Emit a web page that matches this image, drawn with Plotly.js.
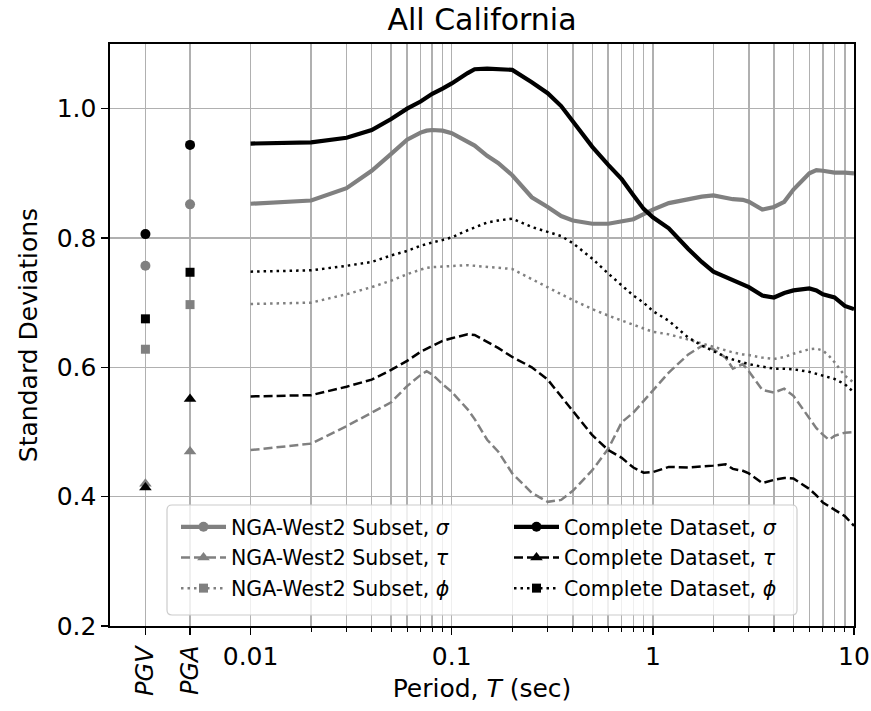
<!DOCTYPE html>
<html><head><meta charset="utf-8">
<script src="https://cdn.plot.ly/plotly-3.0.1.min.js"></script>
<style>html,body{margin:0;padding:0;background:#fff}#chart{width:871px;height:711px}</style>
</head><body><div id="chart"></div>
<script>
// ---- data ----
const periods = [0.01, 0.02, 0.03, 0.04, 0.05, 0.06, 0.07, 0.075, 0.08, 0.09, 0.1, 0.12, 0.13, 0.15, 0.17, 0.2, 0.25, 0.3, 0.35, 0.4, 0.5, 0.6, 0.7, 0.8, 0.9, 1, 1.2, 1.5, 1.75, 2, 2.3, 2.5, 2.8, 3, 3.5, 4, 4.5, 5, 6, 6.5, 7, 7.5, 8, 9, 10];

const ngaSigma = [0.853, 0.858, 0.877, 0.904, 0.930, 0.952, 0.963, 0.966, 0.967, 0.966, 0.962, 0.950, 0.943, 0.927, 0.916, 0.897, 0.863, 0.848, 0.834, 0.827, 0.822, 0.822, 0.825, 0.829, 0.837, 0.844, 0.854, 0.860, 0.864, 0.866, 0.862, 0.860, 0.859, 0.856, 0.844, 0.848, 0.856, 0.875, 0.900, 0.905, 0.904, 0.902, 0.901, 0.901, 0.900];
const ngaTau = [0.472, 0.482, 0.509, 0.530, 0.546, 0.571, 0.588, 0.594, 0.589, 0.574, 0.562, 0.535, 0.520, 0.488, 0.470, 0.436, 0.406, 0.392, 0.395, 0.409, 0.441, 0.474, 0.515, 0.530, 0.548, 0.565, 0.592, 0.620, 0.633, 0.628, 0.615, 0.598, 0.605, 0.594, 0.565, 0.561, 0.567, 0.556, 0.520, 0.506, 0.496, 0.488, 0.494, 0.499, 0.500];
const ngaPhi = [0.698, 0.700, 0.713, 0.724, 0.734, 0.744, 0.751, 0.754, 0.755, 0.756, 0.757, 0.758, 0.757, 0.756, 0.754, 0.752, 0.736, 0.724, 0.713, 0.704, 0.690, 0.680, 0.672, 0.666, 0.660, 0.655, 0.651, 0.643, 0.637, 0.631, 0.626, 0.623, 0.620, 0.619, 0.615, 0.613, 0.616, 0.621, 0.628, 0.629, 0.626, 0.618, 0.608, 0.587, 0.576];

const allSigma = [0.946, 0.948, 0.955, 0.967, 0.984, 1.000, 1.011, 1.017, 1.023, 1.031, 1.039, 1.055, 1.061, 1.062, 1.061, 1.060, 1.041, 1.024, 1.004, 0.980, 0.941, 0.913, 0.891, 0.866, 0.845, 0.832, 0.815, 0.783, 0.763, 0.748, 0.740, 0.734, 0.728, 0.724, 0.711, 0.708, 0.715, 0.719, 0.722, 0.719, 0.713, 0.711, 0.708, 0.695, 0.690];
const allTau = [0.555, 0.557, 0.570, 0.581, 0.596, 0.610, 0.624, 0.629, 0.633, 0.641, 0.645, 0.651, 0.650, 0.640, 0.630, 0.616, 0.600, 0.581, 0.555, 0.531, 0.495, 0.472, 0.460, 0.445, 0.437, 0.438, 0.446, 0.445, 0.446, 0.448, 0.450, 0.443, 0.440, 0.436, 0.421, 0.426, 0.429, 0.428, 0.412, 0.402, 0.391, 0.385, 0.379, 0.370, 0.355];
const allPhi = [0.748, 0.750, 0.757, 0.763, 0.773, 0.780, 0.788, 0.790, 0.793, 0.797, 0.801, 0.812, 0.816, 0.824, 0.827, 0.830, 0.817, 0.810, 0.803, 0.792, 0.768, 0.745, 0.726, 0.711, 0.700, 0.687, 0.672, 0.646, 0.634, 0.625, 0.616, 0.612, 0.607, 0.605, 0.601, 0.598, 0.598, 0.597, 0.593, 0.590, 0.587, 0.585, 0.582, 0.574, 0.561];

// PGV / PGA values, plotted at nominal placeholder periods left of 0.01 s
const imtLabels = ['PGV', 'PGA'];
const imtPeriods = [0.003, 0.005];
const ngaSigmaIMT = [0.757, 0.852];
const ngaTauIMT = [0.420, 0.470];
const ngaPhiIMT = [0.628, 0.697];
const allSigmaIMT = [0.806, 0.944];
const allTauIMT = [0.414, 0.551];
const allPhiIMT = [0.675, 0.747];

// tick labels
const xTickVals = [0.01, 0.1, 1, 10];
const xTickText = ['0.01', '0.1', '1', '10'];
const xMinorTicks = [0.02,0.03,0.04,0.05,0.06,0.07,0.08,0.09,0.2,0.3,0.4,0.5,0.6,0.7,0.8,0.9,2,3,4,5,6,7,8,9];
const yTickVals = [0.2, 0.4, 0.6, 0.8, 1.0];
const yTickText = ['0.2', '0.4', '0.6', '0.8', '1.0'];

// ---- styling ----
const GRAY = '#808080', BLACK = '#000000';
const DASH = '9px,4px', DOT = '2.5px,4px';
const series = [
  {key:'ns', name:'NGA-West2 Subset, <i>σ</i>', curve:ngaSigma, imt:ngaSigmaIMT, color:GRAY, dash:'solid', width:4.2, symbol:'circle', size:10, legend:'legend'},
  {key:'nt', name:'NGA-West2 Subset, <i>τ</i>', curve:ngaTau, imt:ngaTauIMT, color:GRAY, dash:DASH, width:2.5, symbol:'triangle-up', size:11, legend:'legend'},
  {key:'np', name:'NGA-West2 Subset, <i>ϕ</i>', curve:ngaPhi, imt:ngaPhiIMT, color:GRAY, dash:DOT, width:2.5, symbol:'square', size:9, legend:'legend'},
  {key:'as', name:'Complete Dataset, <i>σ</i>', curve:allSigma, imt:allSigmaIMT, color:BLACK, dash:'solid', width:4.2, symbol:'circle', size:10, legend:'legend2'},
  {key:'at', name:'Complete Dataset, <i>τ</i>', curve:allTau, imt:allTauIMT, color:BLACK, dash:DASH, width:2.5, symbol:'triangle-up', size:11, legend:'legend2'},
  {key:'ap', name:'Complete Dataset, <i>ϕ</i>', curve:allPhi, imt:allPhiIMT, color:BLACK, dash:DOT, width:2.5, symbol:'square', size:9, legend:'legend2'}
];

const traces = [];
series.forEach(s => {
  traces.push({
    type:'scatter', mode:'lines', x:periods, y:s.curve,
    line:{color:s.color, width:s.width, dash:s.dash},
    legendgroup:s.key, showlegend:false, hoverinfo:'skip', legend:s.legend
  });
});
series.forEach(s => {
  traces.push({
    type:'scatter', mode:'lines+markers', name:s.name,
    x:[imtPeriods[0], null, imtPeriods[1]], y:[s.imt[0], null, s.imt[1]],
    connectgaps:false,
    line:{color:s.color, width:s.width, dash:s.dash},
    marker:{symbol:s.symbol, size:s.size, color:s.color, line:{width:0}},
    legendgroup:s.key, showlegend:true, legend:s.legend
  });
});

// pixel helpers for paper coordinates (plot area 110..854 x 44..626)
const PL=110, PR=854, PT=44, PB=626;
const px = v => (v - PL) / (PR - PL);
const py = v => (PB - v) / (PB - PT);

// rounded legend frame
function roundRect(x0, y0, x1, y1, r) {
  const rx = r/(PR-PL), ry = r/(PB-PT);
  const L=px(x0), R=px(x1), T=py(y0), B=py(y1);
  return `M${L+rx},${T} L${R-rx},${T} Q${R},${T} ${R},${T-ry} L${R},${B+ry} Q${R},${B} ${R-rx},${B} L${L+rx},${B} Q${L},${B} ${L},${B+ry} L${L},${T-ry} Q${L},${T} ${L+rx},${T} Z`;
}

const gridColor = '#b0b0b0';
const legendCommon = {xanchor:'left', yanchor:'top', bgcolor:'rgba(0,0,0,0)', borderwidth:0,
                      font:{size:20.5}, itemwidth:45, tracegroupgap:1, traceorder:'grouped'};
const layout = {
  width:871, height:711,
  margin:{l:PL, r:871-PR, t:PT, b:711-PB},
  paper_bgcolor:'#ffffff', plot_bgcolor:'#ffffff',
  font:{family:'DejaVu Sans', color:'#000'},
  showlegend:true,
  title:{text:'All California', font:{size:30, family:'DejaVu Sans'}, x:0.5, xref:'paper', xanchor:'center', y:1-19/711, yref:'container', yanchor:'middle'},
  xaxis:{
    type:'log', range:[Math.log10(0.002), 1],
    tickmode:'array', tickvals:imtPeriods.concat(xTickVals), ticktext:imtLabels.map(()=>'').concat(xTickText),
    ticks:'outside', ticklen:7, tickwidth:1.5, tickcolor:'#000', tickfont:{size:25},
    showline:true, linecolor:'#000', linewidth:1.6, mirror:true,
    showgrid:true, gridcolor:gridColor, gridwidth:1.5, zeroline:false,
    minor:{tickmode:'array', tickvals:xMinorTicks, ticks:'outside', ticklen:4, tickwidth:1.2, tickcolor:'#000', showgrid:true, gridcolor:gridColor, gridwidth:1.5},
    title:{text:'Period, <i>T</i> (sec)', font:{size:25}, standoff:10}
  },
  yaxis:{
    range:[0.2, 1.1], tickmode:'array', tickvals:yTickVals, ticktext:yTickText,
    ticks:'outside', ticklen:7, tickwidth:1.5, tickcolor:'#000', tickfont:{size:25},
    showline:true, linecolor:'#000', linewidth:1.6, mirror:true,
    showgrid:true, gridcolor:gridColor, gridwidth:1.5, zeroline:false,
    title:{text:'Standard Deviations', font:{size:25}, standoff:12}
  },
  legend:Object.assign({x:px(176), y:py(507)}, legendCommon),
  legend2:Object.assign({x:px(509), y:py(507)}, legendCommon),
  shapes:[{type:'path', xref:'paper', yref:'paper', path:roundRect(167, 505, 797, 615, 5),
           fillcolor:'rgba(255,255,255,0.8)', line:{color:'#cccccc', width:1.2}, layer:'above'}],
  annotations: imtLabels.map((lab, i) => ({
    x:Math.log10(imtPeriods[i]), xref:'x', y:py(643), yref:'paper',
    text:'<i>'+lab+'</i>', textangle:-90, showarrow:false, font:{size:24},
    xanchor:'center', yanchor:'top'
  }))
};

Plotly.newPlot('chart', traces, layout, {displayModeBar:false, staticPlot:true});
</script>
</body></html>
